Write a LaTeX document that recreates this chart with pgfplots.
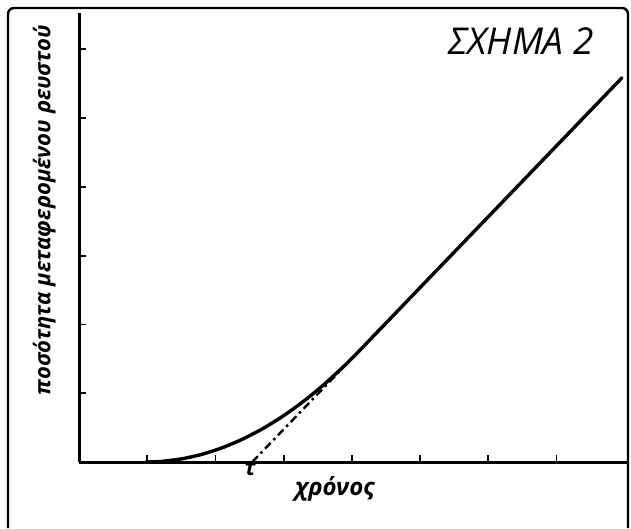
\documentclass[border=0pt]{standalone}
\usepackage{fontspec}
\setmainfont{Open Sans}
\usepackage{pgfplots}
\pgfplotsset{compat=1.18}
\begin{document}
\begin{tikzpicture}
\useasboundingbox (-79pt,-66pt) rectangle (552pt,462pt);
\begin{axis}[
  x=68.2pt, y=68.8pt,
  xmin=0, xmax=8.05, ymin=0, ymax=6.53,
  axis x line=bottom, axis y line=left,
  axis line style={-, line width=3pt},
  xtick={1,2,3,4,5,6,7}, ytick={1,2,3,4,5,6},
  xticklabels={}, yticklabels={},
  tick align=inside, major tick length=7pt,
  tick style={line width=1.8pt, black},
  clip=false,
]
\addplot[black, line width=3.4pt, smooth, tension=0.4, line cap=round] coordinates {
(0.98,0) (1.2,0.008) (1.5,0.045) (1.8,0.111) (2.1,0.207) (2.4,0.333) (2.7,0.488)
(3.0,0.673) (3.3,0.888) (3.6,1.133) (3.9,1.407) (4.1,1.606) (5.0,2.534) (6.0,3.564)
(7.0,4.594) (7.96,5.583)};
\addplot[black, line width=2.4pt, dash pattern=on 8pt off 4pt on 2.5pt off 4pt] coordinates {(2.54,0) (3.9,1.40)};
\node[rotate=90, font=\bfseries\itshape\fontsize{22}{24}\selectfont] at (axis cs:-0.51,3.66) {ποσότητα μεταφερομένου ρευστού};
\node[font=\bfseries\itshape\fontsize{24}{26}\selectfont] at (axis cs:3.75,-0.39) {χρόνος};
\node[anchor=north, font=\bfseries\itshape\fontsize{22}{24}\selectfont, inner sep=0pt] at (axis cs:2.51,-0.02) {τ};
\node[font=\itshape\fontsize{37}{39}\selectfont] at (axis cs:6.48,6.12) {ΣΧΗΜΑ 2};
\end{axis}
\draw[line width=2.4pt, rounded corners=6pt] (-71pt,-66pt) -- (-71pt,454pt) -- (549pt,454pt) -- (549pt,-66pt);
\end{tikzpicture}
\end{document}
